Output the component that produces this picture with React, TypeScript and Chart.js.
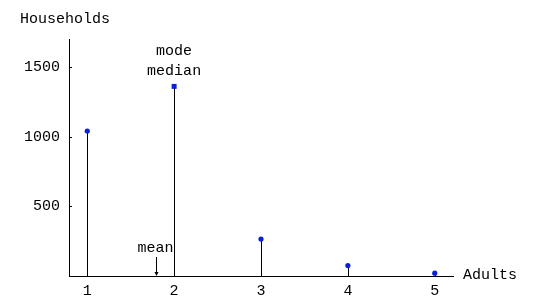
import React, { useEffect, useRef } from "react";
import { Chart, registerables } from "chart.js";

Chart.register(...registerables);

const adults = [1, 2, 3, 4, 5];
const households = [1040, 1360, 265, 75, 20];
const markerStyles = ["circle", "rect", "circle", "circle", "circle"];
const yTickValues = [500, 1000, 1500];
const meanValue = 1.79;
const modeIndex = 1;

const FONT = "'Liberation Mono', 'Courier New', monospace";
const BLUE = "#0b1fd8";

const stems = {
  id: "stems",
  beforeDatasetsDraw(chart: any) {
    const { ctx, scales } = chart;
    const xs = scales.x;
    const ys = scales.y;
    ctx.save();
    ctx.strokeStyle = "#000";
    ctx.lineWidth = 1;
    adults.forEach((v, i) => {
      const x = Math.round(xs.getPixelForValue(v)) + 0.5;
      ctx.beginPath();
      ctx.moveTo(x, ys.getPixelForValue(0));
      ctx.lineTo(x, ys.getPixelForValue(households[i]));
      ctx.stroke();
    });
    ctx.restore();
  },
};

const annotations = {
  id: "annotations",
  afterDraw(chart: any) {
    const { ctx, chartArea, scales } = chart;
    const xs = scales.x;
    const ys = scales.y;
    ctx.save();
    ctx.strokeStyle = "#000";
    ctx.lineWidth = 1;
    ys.ticks.forEach((t: any) => {
      const y = Math.round(ys.getPixelForValue(t.value)) + 0.5;
      ctx.beginPath();
      ctx.moveTo(chartArea.left, y);
      ctx.lineTo(chartArea.left + 3, y);
      ctx.stroke();
    });
    ctx.fillStyle = "#000";
    ctx.font = `15px ${FONT}`;
    ctx.textBaseline = "middle";
    ctx.textAlign = "left";
    ctx.fillText("Households", 20, 19);
    ctx.fillText("Adults", chartArea.right + 10, chartArea.bottom - 1);
    const mx = xs.getPixelForValue(adults[modeIndex]);
    const my = ys.getPixelForValue(households[modeIndex]);
    ctx.textAlign = "center";
    ctx.fillText("mode", mx, my - 35);
    ctx.fillText("median", mx, my - 15);
    const ax = Math.round(xs.getPixelForValue(meanValue)) + 0.5;
    const bottom = chartArea.bottom;
    ctx.fillText("mean", ax - 1, bottom - 28);
    ctx.beginPath();
    ctx.moveTo(ax, bottom - 19);
    ctx.lineTo(ax, bottom - 1);
    ctx.stroke();
    ctx.beginPath();
    ctx.moveTo(ax - 2, bottom - 4);
    ctx.lineTo(ax + 2, bottom - 4);
    ctx.lineTo(ax, bottom);
    ctx.closePath();
    ctx.fill();
    ctx.restore();
  },
};

export default function App() {
  const ref = useRef<HTMLCanvasElement>(null);
  useEffect(() => {
    const canvas = ref.current!;
    const chart = new Chart(canvas, {
      type: "scatter",
      data: {
        datasets: [
          {
            data: adults.map((x, i) => ({ x, y: households[i] })),
            backgroundColor: BLUE,
            borderColor: BLUE,
            pointStyle: markerStyles as any,
            pointRadius: markerStyles.map((s) => (s === "rect" ? 3.5 : 2.6)),
            borderWidth: 0,
          } as any,
        ],
      },
      options: {
        animation: false,
        responsive: false,
        layout: { padding: { top: 39, right: 82, left: 0, bottom: 0 } },
        plugins: { legend: { display: false }, tooltip: { enabled: false } },
        scales: {
          x: {
            type: "linear",
            min: 0.79,
            max: 5.21,
            offset: false,
            afterBuildTicks: (s: any) => {
              s.ticks = adults.map((v) => ({ value: v }));
            },
            afterFit: (s: any) => {
              s.height = 30;
            },
            grid: { display: false, drawTicks: false },
            border: { display: true, color: "#000", width: 1 },
            ticks: {
              color: "#000",
              font: { family: FONT, size: 15 },
              padding: 6,
              maxRotation: 0,
              callback: (v: any) => String(v),
            },
          },
          y: {
            type: "linear",
            min: 0,
            max: 1700,
            afterBuildTicks: (s: any) => {
              s.ticks = yTickValues.map((v) => ({ value: v }));
            },
            afterFit: (s: any) => {
              s.width = 69;
            },
            grid: { display: false, drawTicks: false },
            border: { display: true, color: "#000", width: 1 },
            ticks: {
              color: "#000",
              font: { family: FONT, size: 15 },
              padding: 9,
              callback: (v: any) => String(v),
            },
          },
        },
      },
      plugins: [stems, annotations],
    } as any);
    return () => chart.destroy();
  }, []);
  return (
    <div style={{ position: "fixed", left: 0, top: 0, width: 535, height: 306, background: "#fff" }}>
      <canvas ref={ref} width={535} height={306} style={{ width: 535, height: 306 }} />
    </div>
  );
}
